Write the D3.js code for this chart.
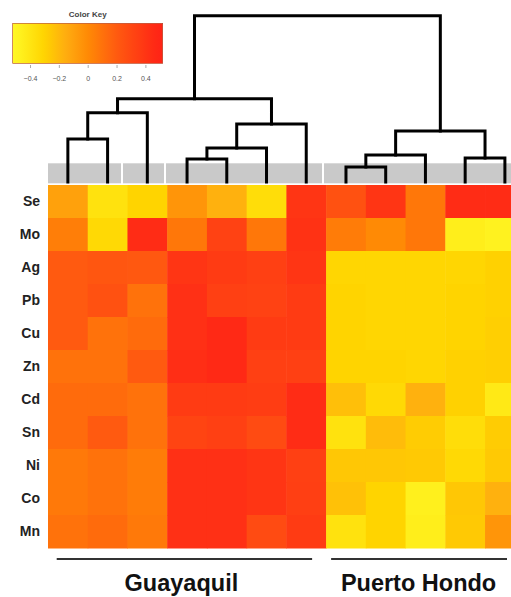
<!DOCTYPE html>
<html>
<head>
<meta charset="utf-8">
<script src="https://cdn.jsdelivr.net/npm/d3@7"></script>
<style>
  html, body { margin: 0; padding: 0; background: #fff; }
  svg { display: block; }
  text { font-family: "Liberation Sans", Arial, Helvetica, sans-serif; }
</style>
</head>
<body>
<svg id="chart" width="511" height="597"></svg>
<script>
// ---------- DATA ----------
const rowLabels = ["Se", "Mo", "Ag", "Pb", "Cu", "Zn", "Cd", "Sn", "Ni", "Co", "Mn"];
const columns = ["G1", "G2", "G3", "G4", "G5", "G6", "G7", "P1", "P2", "P3", "P4", "P5"];

const rowSe = [-0.10, -0.38, -0.30, -0.05, -0.17, -0.35, 0.40, 0.25, 0.40, 0.08, 0.45, 0.45];
const rowMo = [0.05, -0.33, 0.45, 0.08, 0.33, 0.08, 0.42, 0.06, 0.00, 0.08, -0.45, -0.47];
const rowAg = [0.20, 0.22, 0.21, 0.40, 0.37, 0.34, 0.40, -0.31, -0.31, -0.31, -0.31, -0.29];
const rowPb = [0.20, 0.25, 0.10, 0.43, 0.34, 0.33, 0.37, -0.30, -0.31, -0.31, -0.30, -0.29];
const rowCu = [0.20, 0.10, 0.13, 0.43, 0.47, 0.37, 0.37, -0.30, -0.31, -0.31, -0.30, -0.28];
const rowZn = [0.10, 0.10, 0.20, 0.44, 0.47, 0.34, 0.34, -0.30, -0.30, -0.31, -0.29, -0.28];
const rowCd = [0.13, 0.13, 0.10, 0.37, 0.37, 0.36, 0.45, -0.22, -0.33, -0.17, -0.29, -0.42];
const rowSn = [0.13, 0.20, 0.10, 0.32, 0.34, 0.28, 0.45, -0.38, -0.21, -0.27, -0.35, -0.27];
const rowNi = [0.07, 0.10, 0.06, 0.43, 0.43, 0.40, 0.34, -0.25, -0.25, -0.26, -0.33, -0.26];
const rowCo = [0.07, 0.10, 0.06, 0.43, 0.43, 0.40, 0.35, -0.23, -0.30, -0.46, -0.25, -0.17];
const rowMn = [0.10, 0.13, 0.07, 0.43, 0.43, 0.28, 0.37, -0.38, -0.30, -0.45, -0.26, -0.05];
const values = [rowSe, rowMo, rowAg, rowPb, rowCu, rowZn, rowCd, rowSn, rowNi, rowCo, rowMn];

// column dendrogram, hclust style: negative = leaf (1-based), positive = earlier merge
const mergeA = [-1, 1, -4, 3, 4, 2, -8, 7, -11, 8, 6];
const mergeB = [-2, -3, -5, -6, -7, 5, -9, -10, -12, 9, 10];
const mergeHeight = [2.59, 4.17, 1.38, 2.04, 3.49, 5.0, 0.90, 1.62, 1.44, 3.07, 10];

const keyTicks = [-0.4, -0.2, 0, 0.2, 0.4];
const groups = ["Guayaquil", "Puerto Hondo"];
const groupFrom = ["G1", "P1"];
const groupTo = ["G7", "P5"];

// ---------- DRAW ----------
const svg = d3.select("#chart");

const colorStops = [-0.5, -0.3, -0.15, 0, 0.2, 0.5];
const colorRange = ["#fff724", "#ffd400", "#ffac10", "#ff8a05", "#ff5a10", "#ff2316"];
const color = d3.scaleLinear().domain(colorStops).range(colorRange).clamp(true);

const x = d3.scaleBand().domain(columns).range([48, 48 + 12 * 39.73]).padding(0);
const y = d3.scaleBand().domain(rowLabels).range([185, 548]).padding(0);
const hY = d3.scaleLinear().domain([0, 10]).range([182, 15.7]);

// heatmap cells
const cells = [];
values.forEach((row, i) => row.forEach((v, j) => cells.push({ r: rowLabels[i], c: columns[j], v })));
svg.append("g").selectAll("rect").data(cells).join("rect")
  .attr("x", d => x(d.c))
  .attr("y", d => y(d.r))
  .attr("width", x.bandwidth() + 0.5)
  .attr("height", y.bandwidth() + 0.5)
  .attr("fill", d => color(d.v));

// gray side bar segments
const barSegments = [[48, 121], [123, 164], [166, 322], [324, 530]];
svg.append("g").selectAll("rect").data(barSegments).join("rect")
  .attr("x", d => d[0]).attr("width", d => d[1] - d[0])
  .attr("y", 163.3).attr("height", 20)
  .attr("fill", "#c9c9c9");

// dendrogram
const nodeX = [], nodeH = [];
function pos(id) {
  if (id < 0) return { x: x(columns[-id - 1]) + x.bandwidth() / 2, h: 0 };
  return { x: nodeX[id - 1], h: nodeH[id - 1] };
}
const dg = svg.append("g").attr("fill", "none").attr("stroke", "#000")
  .attr("stroke-width", 3).attr("stroke-linejoin", "miter").attr("stroke-linecap", "square");
mergeA.forEach((a, k) => {
  const pa = pos(a), pb = pos(mergeB[k]), h = mergeHeight[k];
  nodeX.push((pa.x + pb.x) / 2);
  nodeH.push(h);
  const path = d3.path();
  path.moveTo(pa.x, hY(pa.h));
  path.lineTo(pa.x, hY(h));
  path.lineTo(pb.x, hY(h));
  path.lineTo(pb.x, hY(pb.h));
  dg.append("path").attr("d", path.toString());
});

// row labels
svg.append("g").selectAll("text").data(rowLabels).join("text")
  .attr("x", 40)
  .attr("y", d => y(d) + y.bandwidth() / 2)
  .attr("dy", "0.35em")
  .attr("text-anchor", "end")
  .attr("font-size", 14)
  .attr("font-weight", "bold")
  .attr("fill", "#222")
  .text(d => d);

// group lines + labels
const gg = svg.append("g");
groups.forEach((g, i) => {
  const x0 = x(groupFrom[i]) + (i === 0 ? 8.7 : 5);
  const x1 = i === 0 ? x(groupTo[i]) + x.bandwidth() - 14 : 507;
  gg.append("line").attr("x1", x0).attr("x2", x1)
    .attr("y1", 559).attr("y2", 559)
    .attr("stroke", "#333").attr("stroke-width", 2);
  gg.append("text").attr("x", (x0 + x1) / 2 + (i === 0 ? -3 : -0.5)).attr("y", 591)
    .attr("text-anchor", "middle").attr("font-size", 23.5).attr("font-weight", "bold")
    .attr("fill", "#111").text(g);
});

// color key
const kx = d3.scaleLinear().domain([-0.52, 0.52]).range([12.7, 162.7]);
const defs = svg.append("defs");
const grad = defs.append("linearGradient").attr("id", "keygrad")
  .attr("x1", "0%").attr("x2", "100%").attr("y1", "0%").attr("y2", "0%");
d3.range(0, 1.0001, 0.05).forEach(t => {
  const v = kx.invert(12.7 + t * 150);
  grad.append("stop").attr("offset", (t * 100) + "%").attr("stop-color", color(v));
});
const key = svg.append("g");
key.append("rect").attr("x", 12.7).attr("y", 23.3).attr("width", 150).attr("height", 40)
  .attr("fill", "url(#keygrad)").attr("stroke", "#b04020").attr("stroke-width", 0.6);
key.append("text").attr("x", 87.7).attr("y", 17).attr("text-anchor", "middle")
  .attr("font-size", 8).attr("font-weight", "bold").attr("fill", "#444").text("Color Key");
const keyAxis = d3.axisBottom(kx).tickValues(keyTicks).tickSize(3)
  .tickFormat(d => d === 0 ? "0" : d3.format(".1f")(d).replace(".0", ""));
const ka = key.append("g").attr("transform", "translate(0,65)").call(keyAxis);
ka.select(".domain").remove();
ka.selectAll(".tick line").attr("stroke", "#888").attr("stroke-width", 0.7);
ka.selectAll(".tick text").attr("font-size", 7).attr("fill", "#555").attr("dy", "1.4em")
  .attr("font-family", "'Liberation Sans', Arial, sans-serif");
</script>
</body>
</html>
